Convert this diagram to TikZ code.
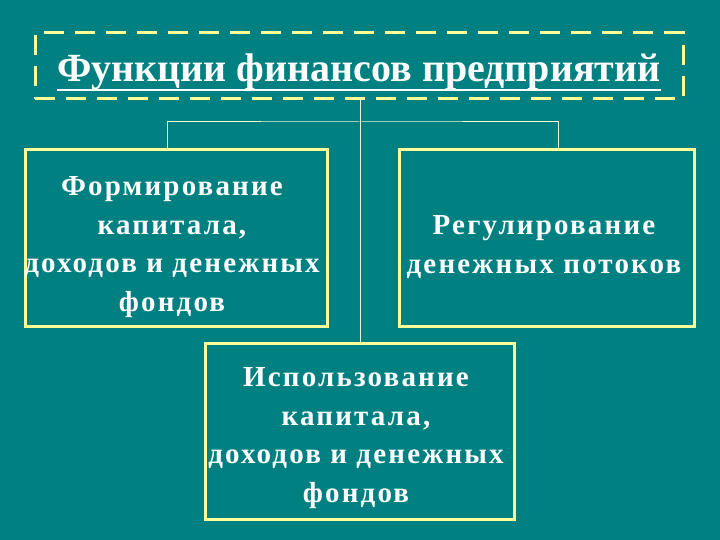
\documentclass[tikz,border=0pt]{standalone}
\usepackage{fontspec}
\setmainfont{Liberation Serif}
\newfontfamily\boxfont[LetterSpace=7.5]{Liberation Serif}
\definecolor{bg}{RGB}{0,128,128}
\definecolor{edge}{RGB}{255,255,153}
\definecolor{conn}{RGB}{240,250,210}
\begin{document}
\begin{tikzpicture}[x=1pt,y=-1pt,
  box/.style={draw=edge,line width=3pt,inner sep=0pt},
  boxtext/.style={text=white,font=\boxfont\fontsize{29}{38.5}\selectfont\bfseries,align=center,inner sep=0pt},
  conline/.style={draw=conn,line width=1pt}]
\fill[bg] (0,0) rectangle (720,540);
\useasboundingbox (0,0) rectangle (720,540);
% title
\node[draw=edge,line width=3pt,dash pattern=on 20pt off 11pt,minimum width=648pt,minimum height=66pt,inner sep=0pt] (title) at (359,66) {};
\node[anchor=base,text=white,inner sep=0pt,font=\fontsize{40}{44}\selectfont\bfseries] (tt) at (359,82) {Функции финансов предприятий};
\draw[white,line width=2.5pt] ([yshift=-8pt]tt.base west) -- ([yshift=-8pt]tt.base east);
% boxes
\node[box,minimum width=302pt,minimum height=176pt] (f1) at (176,238) {};
\node[box,minimum width=295pt,minimum height=176pt] (f2) at (546.5,238) {};
\node[box,minimum width=309pt,minimum height=176pt] (f3) at (359.5,431) {};
\node[boxtext] (t1) at (172,247) {Формирование\\капитала,\\доходов и денежных\\фондов};
\node[boxtext] (t2) at (544,247) {Регулирование\\денежных потоков};
\node[boxtext] (t3) at (356,438) {Использование\\капитала,\\доходов и денежных\\фондов};
% connectors
\coordinate (a) at (167,148.5);
\coordinate (b) at (558,148.5);
\coordinate (j) at (360,122);
\draw[conline] (title.south -| j) -- (f3.north -| j);
\draw[conline] (a) |- (j) -| (b);
\end{tikzpicture}
\end{document}
